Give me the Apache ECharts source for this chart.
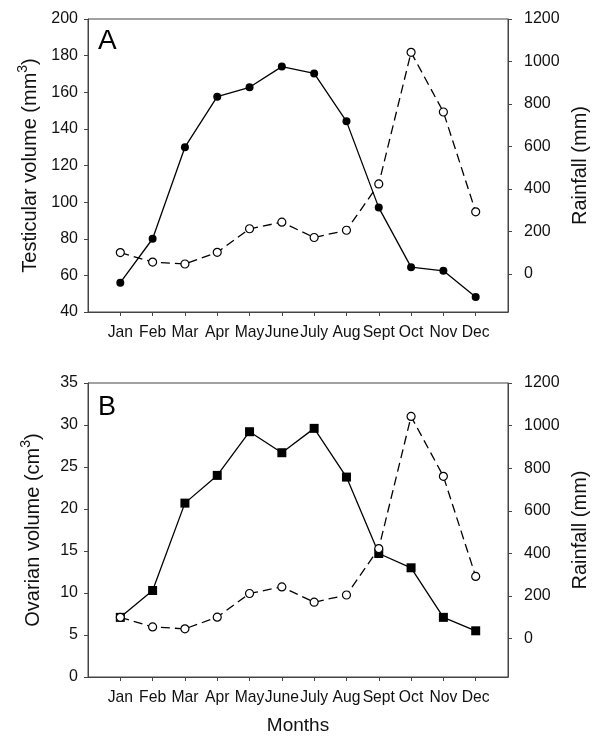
<!DOCTYPE html>
<html>
<head>
<meta charset="utf-8">
<script src="https://cdn.jsdelivr.net/npm/echarts@6/dist/echarts.min.js"></script>
<style>
  html, body { margin: 0; padding: 0; background: #fff; }
  #chart { width: 592px; height: 736px; }
</style>
</head>
<body>
<div id="chart"></div>
<script>
const months = ['Jan', 'Feb', 'Mar', 'Apr', 'May', 'June', 'July', 'Aug', 'Sept', 'Oct', 'Nov', 'Dec'];
const testicular = [56, 80, 130, 157.6, 162.7, 174, 170.3, 144.1, 97, 64.5, 62.5, 48.2];
const ovarian = [7.1, 10.3, 20.7, 24, 29.2, 26.7, 29.6, 23.8, 14.7, 13, 7.1, 5.5];
const rainfall = [100, 55, 46, 101, 212, 243, 171, 205, 423, 1043, 762, 292];
const rainTicks = [0, 200, 400, 600, 800, 1000, 1200];
const monthPos = months.map((m, i) => i + 1);

const font = 'Liberation Sans';
const axisColor = '#444';
const textColor = '#111';

const pairs = (arr) => arr.map((v, i) => [i + 1, v]);

function xAxis(gridIndex) {
  return {
    type: 'value', gridIndex, min: 0, max: 13,
    axisLine: { show: true, onZero: false, lineStyle: { color: axisColor, width: 1 } },
    axisTick: { show: true, length: 4, customValues: monthPos, lineStyle: { color: axisColor } },
    axisLabel: {
      customValues: monthPos, margin: 13,
      formatter: (v) => months[v - 1] || '',
      fontFamily: font, fontSize: 15.7, color: textColor
    },
    splitLine: { show: false }
  };
}

function leftAxis(gridIndex, min, max, interval, name, gap) {
  return {
    type: 'value', gridIndex, position: 'left', min, max, interval,
    name, nameLocation: 'middle', nameGap: gap,
    nameTextStyle: {
      fontFamily: font, fontSize: 20, color: textColor,
      rich: {
        n: { fontFamily: font, fontSize: 20, color: textColor },
        s: { fontFamily: font, fontSize: 14, color: textColor, verticalAlign: 'top', padding: [0, 0, 14, 0] }
      }
    },
    axisLine: { show: true, onZero: false, lineStyle: { color: axisColor } },
    axisTick: { show: true, length: 4, lineStyle: { color: axisColor } },
    axisLabel: { margin: 10, fontFamily: font, fontSize: 16, color: textColor },
    splitLine: { show: false }
  };
}

function rightAxis(gridIndex) {
  return {
    type: 'value', gridIndex, position: 'right', min: -180, max: 1200,
    name: 'Rainfall (mm)', nameLocation: 'middle', nameGap: 59,
    nameTextStyle: { fontFamily: font, fontSize: 20, color: textColor },
    axisLine: { show: true, onZero: false, lineStyle: { color: axisColor } },
    axisTick: { show: true, length: 4, customValues: rainTicks, lineStyle: { color: axisColor } },
    axisLabel: {
      customValues: rainTicks, margin: 16, formatter: (v) => String(v),
      fontFamily: font, fontSize: 16, color: textColor
    },
    splitLine: { show: false }
  };
}

function volumeSeries(x, y, data, symbol, size) {
  return {
    type: 'line', xAxisIndex: x, yAxisIndex: y, data: pairs(data),
    symbol, symbolSize: size, showSymbol: true,
    lineStyle: { color: '#000', width: 1.3 },
    itemStyle: { color: '#000', borderColor: '#000', borderWidth: 0 },
    z: 2
  };
}

function rainSeries(x, y) {
  return {
    type: 'line', xAxisIndex: x, yAxisIndex: y, data: pairs(rainfall),
    symbol: 'circle', symbolSize: 8,
    lineStyle: { color: '#000', width: 1.3, type: [9, 5] },
    itemStyle: { color: '#fff', borderColor: '#000', borderWidth: 1.2 },
    z: 3
  };
}

const gridBase = {
  left: 88, right: 84, show: true, borderColor: axisColor, borderWidth: 1,
  backgroundColor: 'transparent', containLabel: false, outerBoundsMode: 'none'
};

const chart = echarts.init(document.getElementById('chart'));
chart.setOption({
  animation: false,
  backgroundColor: '#fff',
  grid: [
    Object.assign({}, gridBase, { top: 19, height: 293 }),
    Object.assign({}, gridBase, { top: 383, height: 294 })
  ],
  xAxis: [
    xAxis(0),
    Object.assign(xAxis(1), {
      name: 'Months', nameLocation: 'middle', nameGap: 39,
      nameTextStyle: { fontFamily: font, fontSize: 19, color: textColor }
    })
  ],
  yAxis: [
    leftAxis(0, 40, 200, 20, '{n|Testicular volume (mm}{s|3}{n|)}', 41),
    rightAxis(0),
    leftAxis(1, 0, 35, 5, '{n|Ovarian volume (cm}{s|3}{n|)}', 41),
    rightAxis(1)
  ],
  graphic: [
    { type: 'text', left: 98, top: 27, style: { text: 'A', fontFamily: font, fontSize: 28, fill: '#000' } },
    { type: 'text', left: 98, top: 394, style: { text: 'B', fontFamily: font, fontSize: 27, fill: '#000' } }
  ],
  series: [
    volumeSeries(0, 0, testicular, 'circle', 8),
    rainSeries(0, 1),
    volumeSeries(1, 2, ovarian, 'rect', 9),
    rainSeries(1, 3)
  ]
});
</script>
</body>
</html>
